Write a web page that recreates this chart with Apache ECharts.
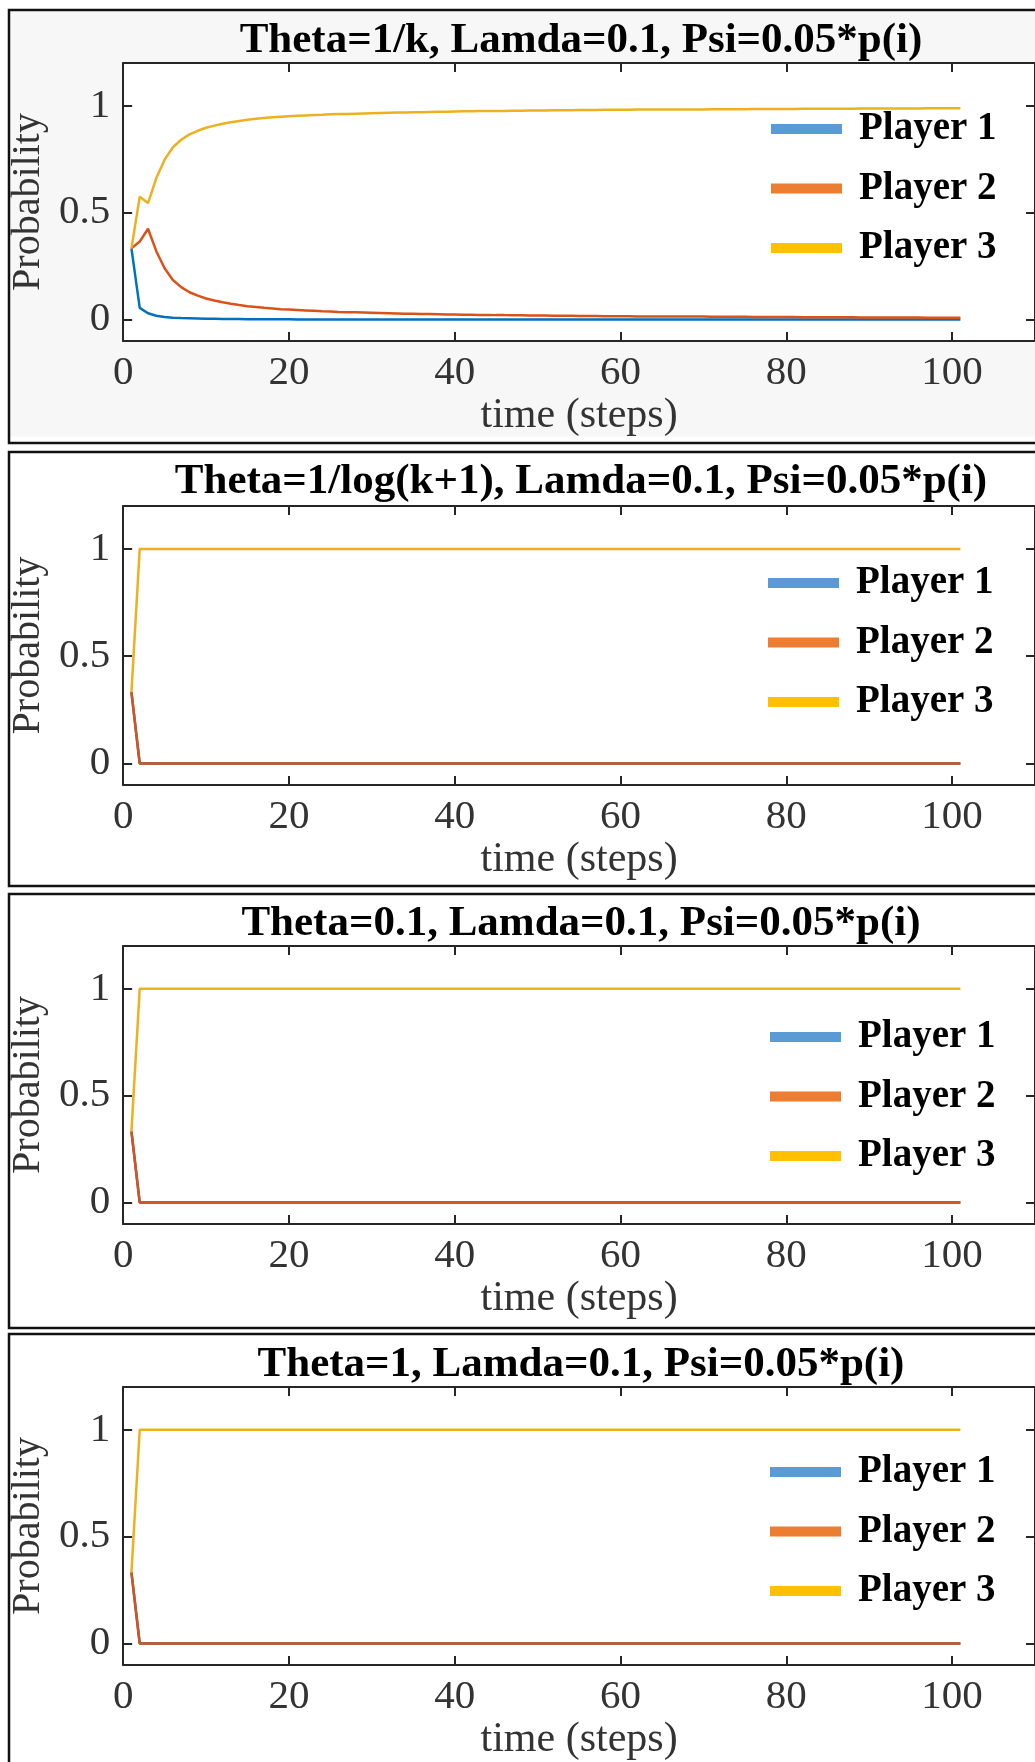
<!DOCTYPE html>
<html>
<head>
<meta charset="utf-8">
<script src="https://cdn.jsdelivr.net/npm/echarts@6/dist/echarts.min.js"></script>
<style>
html,body{margin:0;padding:0;background:#fff;}
#chart{width:1035px;height:1762px;}
</style>
</head>
<body>
<div id="chart"></div>
<script>
// ---------- DATA ----------
const steps = [
  1,2,3,4,5,6,7,8,9,10,11,12,13,14,15,16,17,18,19,20,
  21,22,23,24,25,26,27,28,29,30,31,32,33,34,35,36,37,38,39,40,
  41,42,43,44,45,46,47,48,49,50,51,52,53,54,55,56,57,58,59,60,
  61,62,63,64,65,66,67,68,69,70,71,72,73,74,75,76,77,78,79,80,
  81,82,83,84,85,86,87,88,89,90,91,92,93,94,95,96,97,98,99,100,101
];
const seriesNames = ['Player 1', 'Player 2', 'Player 3'];
const panelTitles = [
  'Theta=1/k, Lamda=0.1, Psi=0.05*p(i)',
  'Theta=1/log(k+1), Lamda=0.1, Psi=0.05*p(i)',
  'Theta=0.1, Lamda=0.1, Psi=0.05*p(i)',
  'Theta=1, Lamda=0.1, Psi=0.05*p(i)'
];
const xTicks = [0, 20, 40, 60, 80, 100];
const yTicks = [0, 0.5, 1];

// Panel 1 (Theta=1/k)
const thetaK_player1 = [
  0.333,0.055,0.030,0.018,0.012,0.009,0.007,0.006,0.005,0.004,
  0.004,0.003,0.003,0.003,0.002,0.002,0.002,0.002,0.002,0.002,
  0.001,0.001,0.001,0.001,0.001,0.001,0.001,0.001,0.001,0.001,
  0.001,0.001,0.001,0.001,0.001,0.001,0.001,0.001,0.001,0.001,
  0,0,0,0,0,0,0,0,0,0,
  0,0,0,0,0,0,0,0,0,0,
  0,0,0,0,0,0,0,0,0,0,
  0,0,0,0,0,0,0,0,0,0,
  0,0,0,0,0,0,0,0,0,0,
  0,0,0,0,0,0,0,0,0,0,0
];
const thetaK_player2 = [
  0.333,0.365,0.425,0.320,0.240,0.185,0.152,0.128,0.112,0.099,
  0.089,0.081,0.074,0.068,0.063,0.059,0.055,0.052,0.049,0.047,
  0.045,0.043,0.041,0.039,0.038,0.036,0.035,0.034,0.033,0.032,
  0.031,0.030,0.029,0.028,0.027,0.026,0.026,0.025,0.024,0.024,
  0.023,0.023,0.022,0.022,0.021,0.021,0.020,0.020,0.019,0.019,
  0.019,0.018,0.018,0.018,0.017,0.017,0.017,0.016,0.016,0.016,
  0.016,0.015,0.015,0.015,0.015,0.014,0.014,0.014,0.014,0.014,
  0.013,0.013,0.013,0.013,0.013,0.012,0.012,0.012,0.012,0.012,
  0.012,0.011,0.011,0.011,0.011,0.011,0.011,0.011,0.010,0.010,
  0.010,0.010,0.010,0.010,0.010,0.010,0.009,0.009,0.009,0.009,0.009
];
const thetaK_player3 = [
  0.333,0.575,0.545,0.662,0.748,0.806,0.841,0.866,0.883,0.897,
  0.907,0.916,0.923,0.929,0.935,0.939,0.943,0.946,0.949,0.951,
  0.953,0.955,0.957,0.958,0.960,0.961,0.962,0.963,0.964,0.965,
  0.966,0.967,0.968,0.969,0.970,0.970,0.971,0.972,0.972,0.973,
  0.974,0.974,0.975,0.975,0.976,0.976,0.977,0.977,0.978,0.978,
  0.978,0.979,0.979,0.979,0.980,0.980,0.980,0.981,0.981,0.981,
  0.981,0.982,0.982,0.982,0.982,0.983,0.983,0.983,0.983,0.983,
  0.984,0.984,0.984,0.984,0.984,0.985,0.985,0.985,0.985,0.985,
  0.985,0.986,0.986,0.986,0.986,0.986,0.986,0.986,0.987,0.987,
  0.987,0.987,0.987,0.987,0.987,0.987,0.988,0.988,0.988,0.988,0.988
];

// Panels 2-4 (Theta=1/log(k+1), 0.1, 1): identical readings — jump at step 2
const fast_player1 = [
  0.333,0,0,0,0,0,0,0,0,0,
  0,0,0,0,0,0,0,0,0,0,
  0,0,0,0,0,0,0,0,0,0,
  0,0,0,0,0,0,0,0,0,0,
  0,0,0,0,0,0,0,0,0,0,
  0,0,0,0,0,0,0,0,0,0,
  0,0,0,0,0,0,0,0,0,0,
  0,0,0,0,0,0,0,0,0,0,
  0,0,0,0,0,0,0,0,0,0,
  0,0,0,0,0,0,0,0,0,0,0
];
const fast_player2 = [
  0.333,0,0,0,0,0,0,0,0,0,
  0,0,0,0,0,0,0,0,0,0,
  0,0,0,0,0,0,0,0,0,0,
  0,0,0,0,0,0,0,0,0,0,
  0,0,0,0,0,0,0,0,0,0,
  0,0,0,0,0,0,0,0,0,0,
  0,0,0,0,0,0,0,0,0,0,
  0,0,0,0,0,0,0,0,0,0,
  0,0,0,0,0,0,0,0,0,0,
  0,0,0,0,0,0,0,0,0,0,0
];
const fast_player3 = [
  0.333,1,1,1,1,1,1,1,1,1,
  1,1,1,1,1,1,1,1,1,1,
  1,1,1,1,1,1,1,1,1,1,
  1,1,1,1,1,1,1,1,1,1,
  1,1,1,1,1,1,1,1,1,1,
  1,1,1,1,1,1,1,1,1,1,
  1,1,1,1,1,1,1,1,1,1,
  1,1,1,1,1,1,1,1,1,1,
  1,1,1,1,1,1,1,1,1,1,
  1,1,1,1,1,1,1,1,1,1,1
];
const panelData = [
  [thetaK_player1, thetaK_player2, thetaK_player3],
  [fast_player1, fast_player2, fast_player3],
  [fast_player1, fast_player2, fast_player3],
  [fast_player1, fast_player2, fast_player3]
];

// ---------- LAYOUT / STYLE ----------
const SERIF = "'Liberation Serif','Times New Roman',serif";
const lineColors = ['#0072BD', '#D95319', '#EDB120'];
const legendColors = ['#5B9BD5', '#ED7D31', '#FFC000'];
const axisColor = '#262626';
const layout = [
  {frameTop: 10, frameH: 433, top: 63,   h: 278, titleY: 41,   legTop: 109,  legLeft: 771},
  {frameTop: 452, frameH: 434, top: 506, h: 279, titleY: 482,  legTop: 563,  legLeft: 768},
  {frameTop: 894, frameH: 434, top: 946, h: 278, titleY: 924,  legTop: 1017, legLeft: 770},
  {frameTop: 1334, frameH: 600, top: 1387, h: 279, titleY: 1365, legTop: 1452, legLeft: 770}
];
const GRID_LEFT = 122, GRID_W = 918, X_MAX = 110;

const option = {
  animation: false,
  backgroundColor: '#ffffff',
  title: [], grid: [], xAxis: [], yAxis: [], legend: [], series: [],
  graphic: {elements: []}
};

layout.forEach((L, i) => {
  if (i === 0) {
    option.graphic.elements.push({
      type: 'rect', z: -20, silent: true,
      shape: {x: 10.5, y: L.frameTop + 1.5, width: 1100, height: 425},
      style: {fill: '#f7f7f7', stroke: null}
    });
  }
  option.graphic.elements.push({
    type: 'rect', z: -10, silent: true,
    shape: {x: 9, y: L.frameTop, width: 1100, height: L.frameH},
    style: {fill: null, stroke: '#111111', lineWidth: 2.5}
  });

  option.title.push({
    text: panelTitles[i],
    left: 581, top: L.titleY,
    textAlign: 'center', textVerticalAlign: 'middle',
    padding: 0,
    textStyle: {fontFamily: SERIF, fontWeight: 'bold', fontSize: 43, color: '#000'}
  });

  option.grid.push({
    left: GRID_LEFT, top: L.top, width: GRID_W, height: L.h,
    show: true, backgroundColor: '#ffffff', borderWidth: 0, containLabel: false
  });

  const axLine = {show: true, onZero: false, lineStyle: {color: axisColor, width: 2}};
  const tickStyle = {color: axisColor, width: 2};

  option.xAxis.push({
    gridIndex: i, type: 'value', position: 'bottom', min: 0, max: X_MAX,
    axisLine: axLine,
    axisTick: {show: true, inside: true, length: 9, customValues: xTicks, lineStyle: tickStyle},
    axisLabel: {show: true, customValues: xTicks, margin: 12, fontFamily: SERIF, fontSize: 41, color: '#333'},
    splitLine: {show: false},
    name: 'time (steps)', nameLocation: 'middle', nameGap: 54,
    nameTextStyle: {fontFamily: SERIF, fontSize: 42, color: '#333'}
  });
  option.xAxis.push({
    gridIndex: i, type: 'value', position: 'top', min: 0, max: X_MAX,
    axisLine: axLine,
    axisTick: {show: true, inside: true, length: 9, customValues: xTicks, lineStyle: tickStyle},
    axisLabel: {show: false},
    splitLine: {show: false}
  });
  option.yAxis.push({
    gridIndex: i, type: 'value', position: 'left', min: -0.1, max: 1.2,
    axisLine: axLine,
    axisTick: {show: true, inside: true, length: 9, customValues: yTicks, lineStyle: tickStyle},
    axisLabel: {show: true, customValues: yTicks, margin: 13, fontFamily: SERIF, fontSize: 41, color: '#333'},
    splitLine: {show: false},
    name: 'Probability', nameLocation: 'middle', nameGap: 58, nameRotate: 90,
    nameTextStyle: {fontFamily: SERIF, fontSize: 40, color: '#333'}
  });
  option.yAxis.push({
    gridIndex: i, type: 'value', position: 'right', min: -0.1, max: 1.2,
    axisLine: axLine,
    axisTick: {show: true, inside: true, length: 9, customValues: yTicks, lineStyle: tickStyle},
    axisLabel: {show: false},
    splitLine: {show: false}
  });

  seriesNames.forEach((name, s) => {
    option.series.push({
      name: name, type: 'line',
      xAxisIndex: 2 * i, yAxisIndex: 2 * i,
      data: steps.map((x, k) => [x, panelData[i][s][k]]),
      showSymbol: false, symbol: 'none',
      lineStyle: {color: lineColors[s], width: 2.5},
      itemStyle: {color: lineColors[s]},
      z: 3 + s
    });
  });

  option.legend.push({
    orient: 'vertical', left: L.legLeft, top: L.legTop, padding: 0,
    itemWidth: 71, itemHeight: 10, itemGap: 19.5, icon: 'rect',
    selectedMode: false,
    data: seriesNames.map((n, s) => ({name: n, itemStyle: {color: legendColors[s], borderWidth: 0}})),
    textStyle: {fontFamily: SERIF, fontWeight: 'bold', fontSize: 39, color: '#000', lineHeight: 40, padding: [0, 0, 0, 12]}
  });
});

const chart = echarts.init(document.getElementById('chart'), null, {renderer: 'canvas'});
chart.setOption(option);
</script>
</body>
</html>
